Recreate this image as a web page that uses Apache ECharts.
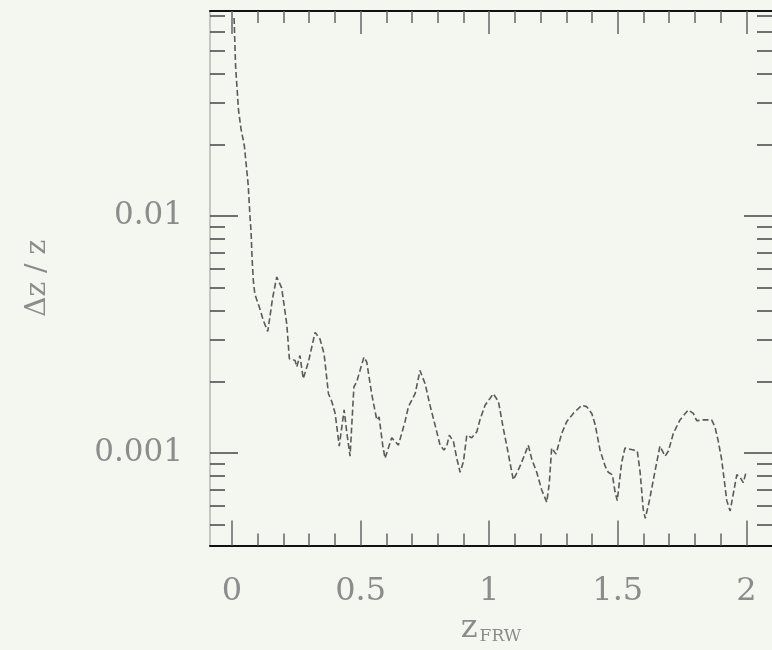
<!DOCTYPE html>
<html><head><meta charset="utf-8">
<script src="https://cdn.jsdelivr.net/npm/echarts@6/dist/echarts.min.js"></script>
<style>html,body{margin:0;padding:0;background:#f3f7f0}#c{width:772px;height:650px}</style>
</head><body><div id="c"></div>
<script>
const zValues = [0.008,0.014,0.025,0.035,0.048,0.063,0.070,0.074,0.078,0.083,
0.089,0.109,0.122,0.139,0.148,0.158,0.174,0.193,0.213,0.223,
0.245,0.252,0.264,0.277,0.297,0.323,0.342,0.358,0.375,0.388,
0.401,0.417,0.436,0.446,0.459,0.474,0.485,0.513,0.524,0.543,
0.563,0.572,0.586,0.595,0.621,0.647,0.673,0.686,0.712,0.731,
0.751,0.770,0.793,0.809,0.824,0.835,0.845,0.861,0.874,0.887,
0.900,0.913,0.932,0.952,0.964,0.984,1.016,1.036,1.055,1.068,
1.081,1.094,1.120,1.139,1.152,1.166,1.185,1.204,1.224,1.234,
1.243,1.260,1.282,1.302,1.327,1.360,1.379,1.399,1.412,1.431,
1.451,1.463,1.479,1.489,1.498,1.515,1.528,1.561,1.576,1.587,
1.599,1.607,1.623,1.645,1.664,1.684,1.697,1.716,1.742,1.774,
1.794,1.807,1.833,1.865,1.878,1.891,1.904,1.924,1.937,1.950,
1.963,1.976,1.988,1.999];
const dzValues = [0.0685,0.0428,0.0282,0.0233,0.0198,0.0135,0.0099,0.00863,0.00665,0.00531,
0.00467,0.00404,0.00362,0.00326,0.00380,0.00452,0.00553,0.00498,0.00350,0.00250,
0.00246,0.00231,0.00258,0.00206,0.00242,0.00323,0.00303,0.00262,0.00178,0.00165,
0.00147,0.00107,0.00152,0.00123,0.00097,0.00190,0.00200,0.00254,0.00242,0.00178,
0.00138,0.00142,0.00108,0.00095,0.00116,0.00108,0.00136,0.00157,0.00178,0.00223,
0.00196,0.00159,0.00127,0.00108,0.00103,0.00107,0.00119,0.00112,0.00095,0.00083,
0.00092,0.00119,0.00116,0.00123,0.00138,0.00159,0.00178,0.00165,0.00127,0.00108,
0.00091,0.00077,0.00088,0.00099,0.00108,0.00094,0.00083,0.00070,0.00062,0.00075,
0.00105,0.00099,0.00121,0.00136,0.00147,0.00159,0.00157,0.00147,0.00132,0.00103,
0.00088,0.00083,0.00081,0.00069,0.00063,0.00091,0.00105,0.00103,0.00102,0.00083,
0.00058,0.00053,0.00063,0.00084,0.00107,0.00097,0.00102,0.00121,0.00138,0.00152,
0.00147,0.00137,0.00138,0.00138,0.00129,0.00112,0.00094,0.00063,0.00057,0.00068,
0.00081,0.00079,0.00075,0.00083];
const xMajorTicks = [0, 0.5, 1, 1.5, 2];
const xTickLabels = ['0', '0.5', '1', '1.5', '2'];
const xMinorTicks = [0.1,0.2,0.3,0.4,0.6,0.7,0.8,0.9,1.1,1.2,1.3,1.4,1.6,1.7,1.8,1.9];
const yMajorTicks = [0.001, 0.01];
const yTickLabels = ['0.001', '0.01'];
const yMinorTicks = [0.0005,0.0006,0.0007,0.0008,0.0009,0.002,0.003,0.004,0.005,0.006,0.007,0.008,0.009,0.02,0.03,0.04,0.05,0.06,0.07];
const xMin = -0.0856, xMax = 2.0998;
const yMin = 0.000407, yMax = 0.0733;

const FONT = 'DejaVu Serif';
const TXT = '#8c8c8c';
const lg = v => Math.log10(v);

function xAx(pos, ticks, len, labels, lineOn) {
  return {
    type: 'value', position: pos, min: xMin, max: xMax,
    axisLine: { show: lineOn, onZero: false, lineStyle: { color: '#111', width: 2 } },
    axisTick: { show: true, inside: true, length: len, customValues: ticks, lineStyle: { color: '#666', width: 1.5 } },
    axisLabel: labels ? { show: true, customValues: xMajorTicks, margin: 30, fontFamily: FONT, fontSize: 32, color: TXT,
      formatter: v => xTickLabels[xMajorTicks.findIndex(t => Math.abs(t - v) < 1e-6)] } : { show: false },
    splitLine: { show: false }
  };
}
function yAx(pos, ticks, len, labels) {
  const lt = ticks.map(lg);
  return {
    type: 'value', position: pos, min: lg(yMin), max: lg(yMax),
    axisLine: { show: false, onZero: false },
    axisTick: { show: true, inside: true, length: len, customValues: lt, lineStyle: { color: '#444', width: 1.5 } },
    axisLabel: labels ? { show: true, customValues: yMajorTicks.map(lg), margin: 27, fontFamily: FONT, fontSize: 31, color: TXT,
      formatter: v => yTickLabels[yMajorTicks.findIndex(t => Math.abs(lg(t) - v) < 1e-6)] } : { show: false },
    splitLine: { show: false }
  };
}

const xAxes = [
  Object.assign(xAx('bottom', xMajorTicks, 25, true, true), {
    name: '{a|z}{b|FRW}', nameLocation: 'middle', nameGap: 66,
    nameTextStyle: { rich: {
      a: { fontFamily: FONT, fontSize: 32, color: TXT, lineHeight: 32 },
      b: { fontFamily: FONT, fontSize: 17, color: TXT, padding: [16, 0, 0, 2] }
    } }
  }),
  xAx('bottom', xMinorTicks, 12, false, false),
  xAx('top', xMajorTicks, 23, false, true),
  xAx('top', xMinorTicks, 12, false, false)
];
const yAxes = [
  {
    type: 'log', logBase: 10, position: 'left', min: yMin, max: yMax,
    axisLine: { show: true, onZero: false, lineStyle: { color: '#c4c8c2', width: 2 } },
    axisTick: { show: false }, axisLabel: { show: false }, splitLine: { show: false },
    name: 'Δz / z', nameLocation: 'middle', nameGap: 158, nameRotate: 90,
    nameTextStyle: { fontFamily: FONT, fontSize: 28, color: TXT }
  },
  yAx('left', yMajorTicks, 28, true),
  yAx('left', yMinorTicks, 15, false),
  yAx('right', yMajorTicks, 28, false),
  yAx('right', yMinorTicks, 15, false)
];

const chart = echarts.init(document.getElementById('c'), null, { renderer: 'canvas' });
chart.setOption({
  backgroundColor: '#f3f7f0',
  animation: false,
  grid: { left: 210, right: 0, top: 11, bottom: 100, containLabel: false },
  xAxis: xAxes,
  yAxis: yAxes,
  series: [{
    type: 'line', xAxisIndex: 0, yAxisIndex: 0,
    data: zValues.map((z, i) => [z, dzValues[i]]),
    showSymbol: false, smooth: false,
    lineStyle: { color: '#5a5a5a', width: 1.6, type: [6, 3] }
  }]
});
</script></body></html>
